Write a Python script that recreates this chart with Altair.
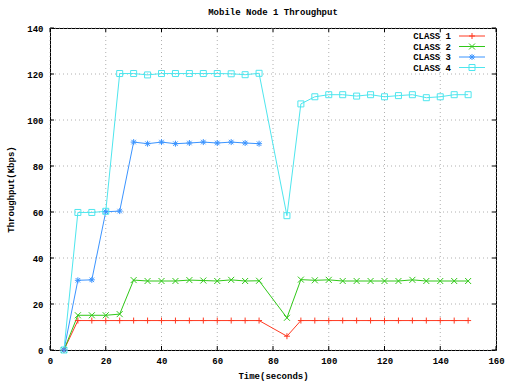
import altair as alt
import pandas as pd

# Sample times (seconds); no sample at 80 s
times = [5, 10, 15, 20, 25, 30, 35, 40, 45, 50, 55, 60, 65, 70, 75,
         85, 90, 95, 100, 105, 110, 115, 120, 125, 130, 135, 140, 145, 150]

class1 = [0, 12.8, 12.8, 12.8, 12.8, 12.8, 12.8, 12.8, 12.8, 12.8, 12.8, 12.8, 12.8, 12.8, 12.8,
          6, 12.8, 12.8, 12.8, 12.8, 12.8, 12.8, 12.8, 12.8, 12.8, 12.8, 12.8, 12.8, 12.8]
class2 = [0, 15.1, 15.1, 15.1, 15.6, 30.4, 30, 30, 30, 30.4, 30.2, 30, 30.5, 30, 30.1,
          14, 30.6, 30.3, 30.5, 30, 30, 30, 30, 30, 30.5, 30, 30, 30, 30]
class3 = [0, 30.3, 30.5, 60.1, 60.4, 90.4, 89.7, 90.4, 89.7, 90, 90.4, 90, 90.4, 90, 89.7]
class4 = [0, 59.8, 59.8, 60.3, 120.2, 120.2, 119.6, 120.2, 120.2, 120.2, 120.2, 120.2, 120.1, 119.7, 120.3,
          58.4, 107, 110.1, 111, 111, 110.4, 111, 110.1, 110.6, 111, 109.7, 110.1, 111, 111]

series_names = ["CLASS 1", "CLASS 2", "CLASS 3", "CLASS 4"]
series_values = [class1, class2, class3, class4]
colors = ["#ff3a22", "#30c818", "#3b94ff", "#4ee6ee"]

x_ticks = [0, 20, 40, 60, 80, 100, 120, 140, 160]
y_ticks = [0, 20, 40, 60, 80, 100, 120, 140]

# gnuplot-style point glyphs
PLUS = "M-1,0L1,0M0,-1L0,1"
CROSS = "M-1,-1L1,1M-1,1L1,-1"
STAR = "M-1,0L1,0M0,-1L0,1M-0.75,-0.75L0.75,0.75M-0.75,0.75L0.75,-0.75"
shapes = [PLUS, CROSS, STAR, "square"]

rows = []
for name, vals in zip(series_names, series_values):
    for t, v in zip(times, vals):
        rows.append({"time": t, "value": v, "series": name})
df = pd.DataFrame(rows)

W, H = 446, 322
FONT = "Liberation Mono"

xscale = alt.Scale(domain=[0, 160], nice=False)
yscale = alt.Scale(domain=[0, 140], nice=False)
cscale = alt.Scale(domain=series_names, range=colors)
sscale = alt.Scale(domain=series_names, range=shapes)

xgrid = pd.DataFrame({"t": x_ticks})
ygrid = pd.DataFrame({"t": y_ticks})

axis_style = dict(
    labelFont=FONT, labelFontSize=9, labelFontWeight="bold", labelColor="black",
    titleFont=FONT, titleFontSize=9, titleFontWeight="bold", titleColor="black",
    ticks=False, domain=False, grid=False, labelFlush=False,
)

grid_x = alt.Chart(xgrid).mark_rule(color="#b0b0b0", strokeDash=[1, 3], strokeWidth=1).encode(
    x=alt.X("t:Q", scale=xscale,
            axis=alt.Axis(values=x_ticks, title="Time(seconds)", labelPadding=6, titlePadding=6,
                          **axis_style)))
grid_y = alt.Chart(ygrid).mark_rule(color="#b0b0b0", strokeDash=[1, 3], strokeWidth=1).encode(
    y=alt.Y("t:Q", scale=yscale,
            axis=alt.Axis(values=y_ticks, title="Throughput(Kbps)", labelPadding=7, titlePadding=11,
                          **axis_style)))

# inward ticks on all four borders
tick_len = 4
tx_bottom = alt.Chart(xgrid).mark_rule(color="black").encode(
    x=alt.X("t:Q", scale=xscale), y=alt.value(H), y2=alt.value(H - tick_len))
tx_top = alt.Chart(xgrid).mark_rule(color="black").encode(
    x=alt.X("t:Q", scale=xscale), y=alt.value(0), y2=alt.value(tick_len))
ty_left = alt.Chart(ygrid).mark_rule(color="black").encode(
    y=alt.Y("t:Q", scale=yscale), x=alt.value(0), x2=alt.value(tick_len))
ty_right = alt.Chart(ygrid).mark_rule(color="black").encode(
    y=alt.Y("t:Q", scale=yscale), x=alt.value(W), x2=alt.value(W - tick_len))

base = alt.Chart(df)
lines = base.mark_line(strokeWidth=1).encode(
    x=alt.X("time:Q", scale=xscale),
    y=alt.Y("value:Q", scale=yscale),
    color=alt.Color("series:N", scale=cscale, legend=None),
    detail="series:N",
)
points = base.mark_point(filled=False, strokeWidth=1, size=36, opacity=1).encode(
    x=alt.X("time:Q", scale=xscale),
    y=alt.Y("value:Q", scale=yscale),
    color=alt.Color("series:N", scale=cscale, legend=None),
    shape=alt.Shape("series:N", scale=sscale, legend=None),
)

# key in the upper right: label, then line sample with its glyph
key_layers = []
key_rows_y = [8, 18.5, 29, 39.5]
for name, col, shp, ky in zip(series_names, colors, shapes, key_rows_y):
    kd = pd.DataFrame({"label": [name]})
    key_layers.append(alt.Chart(kd).mark_text(
        align="right", baseline="middle", font=FONT, fontSize=9, fontWeight="bold", color="black"
    ).encode(text="label:N", x=alt.value(W - 45), y=alt.value(ky)))
    key_layers.append(alt.Chart(kd).mark_rule(color=col, strokeWidth=1).encode(
        x=alt.value(W - 37), x2=alt.value(W - 11), y=alt.value(ky)))
    key_layers.append(alt.Chart(kd).mark_point(
        filled=False, strokeWidth=1, size=36, opacity=1, color=col, shape=shp
    ).encode(x=alt.value(W - 24), y=alt.value(ky)))

chart = alt.layer(
    grid_x, grid_y, tx_bottom, tx_top, ty_left, ty_right, lines, points, *key_layers
).properties(
    width=W, height=H,
    background="white",
    title=alt.TitleParams("Mobile Node 1 Throughput", font=FONT, fontSize=9, fontWeight="bold",
                          anchor="middle", offset=7),
    padding={"left": 50, "top": 28, "right": 12, "bottom": 34},
    autosize=alt.AutoSizeParams(type="none"),
).configure_view(
    stroke="black", strokeWidth=1
)

chart.save("out.html", embed_options={"renderer": "svg", "actions": False})
